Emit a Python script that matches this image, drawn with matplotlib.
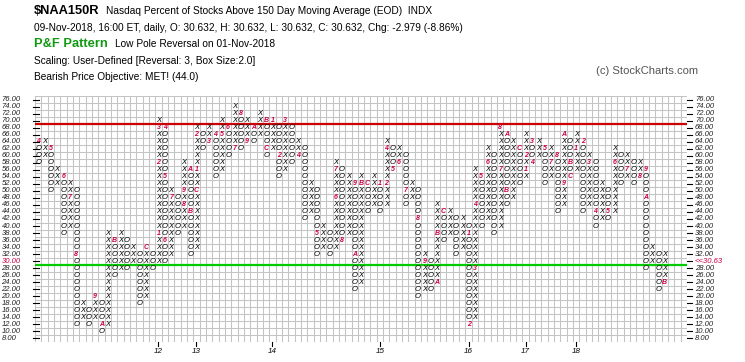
import matplotlib
matplotlib.use('Agg')
import matplotlib.pyplot as plt

plt.rcParams['font.family'] = ['Liberation Sans', 'DejaVu Sans']

# ---- data: one entry per P&F column (X = rising, O = falling) ----
col_types = list("OX" * 50)
col_hi = [64, 64, 62, 56, 54, 52, 50, 18, 16, 20, 18, 38, 36, 38, 36, 34, 32, 34, 32, 70,
          68, 50, 48, 58, 56, 68, 66, 68, 66, 70, 68, 74, 72, 70, 68, 72, 70, 70, 68, 70,
          68, 64, 62, 52, 50, 40, 38, 58, 56, 54, 52, 54, 52, 54, 52, 64, 62, 62, 60, 52,
          50, 32, 30, 46, 44, 44, 42, 42, 40, 56, 54, 62, 60, 68, 66, 64, 62, 66, 64, 64,
          62, 62, 60, 66, 64, 66, 64, 60, 58, 52, 50, 62, 60, 60, 58, 58, 56, 34, 32, 32]
col_lo = [58, 60, 50, 52, 38, 40, 12, 14, 12, 14, 10, 12, 26, 28, 28, 30, 18, 20, 28, 30,
          30, 32, 38, 40, 32, 34, 62, 64, 54, 56, 60, 62, 62, 64, 64, 66, 60, 62, 54, 56,
          58, 60, 42, 44, 32, 34, 32, 34, 36, 38, 22, 24, 44, 46, 44, 46, 56, 58, 46, 48,
          20, 22, 22, 24, 36, 38, 32, 34, 12, 14, 40, 42, 38, 40, 46, 48, 52, 54, 58, 60,
          52, 54, 44, 46, 54, 56, 44, 46, 40, 42, 42, 44, 52, 54, 52, 54, 28, 30, 22, 24]

# month markers (1-9, A=Oct, B=Nov, C=Dec) replacing a box
month_cols = [0, 2, 4, 5, 6, 9, 10, 12, 17,
              19, 19, 19, 20, 20, 20, 21, 23, 23, 24, 24, 25,
              25, 25, 27, 28, 29, 30, 31, 32, 33, 34, 36, 36,
              37, 38, 39, 41, 44, 47, 47, 48, 50, 50, 51, 52,
              54, 55, 55, 56, 57, 58, 60, 61, 63, 63, 64,
              68, 68, 69, 69, 70, 71, 73, 73, 74, 74, 76,
              77, 77, 78, 78, 80, 81, 82, 83, 83, 84, 84,
              85, 86, 87, 88, 90, 91, 93, 95, 96, 96, 99]
month_rows = [64, 62, 54, 48, 32, 20, 12, 36, 34,
              38, 58, 68, 68, 54, 36, 48, 46, 50, 56, 44, 50,
              56, 66, 64, 66, 66, 68, 62, 72, 64, 68, 70, 62,
              70, 60, 70, 60, 38, 48, 56, 36, 52, 32, 52, 52,
              52, 52, 62, 56, 58, 50, 42, 30, 24, 38, 44,
              38, 12, 28, 46, 54, 58, 56, 68, 66, 50, 62,
              56, 60, 64, 58, 62, 58, 60, 52, 66, 58, 54,
              62, 64, 58, 44, 44, 58, 56, 54, 56, 48, 24]
month_text = (list("456789ABC") + list("123456789ABC") + list("123456789ABC")
              + list("123456789ABC") + list("12456789ABC") + list("12345678ABC")
              + list("12345789ABC") + list("123456789AB"))
year_cols = [19, 25, 37, 54, 68, 77, 85]
year_text = ['12', '13', '14', '15', '16', '17', '18']
n_cols = 103
y_min, y_max = 8, 76
red_level = 69
green_level = 29
last_price = '<<30.63'

W, H = 745, 362
fig = plt.figure(figsize=(W / 100, H / 100), dpi=100)
gl, gr, gt, gb = 35, 687, 96, 342
ax = fig.add_axes([gl / W, 1 - gb / H, (gr - gl) / W, (gb - gt) / H])
ax.set_xlim(-0.5, n_cols - 0.5)
ax.set_ylim(y_min - 1, y_max + 1)
ax.axis('off')

gc = '#c4c4c4'
for i in range(n_cols + 1):
    ax.plot([i - 0.5, i - 0.5], [y_min - 1, y_max + 1], color=gc, lw=0.75, zorder=1)
for v in range(y_min - 1, y_max + 2, 2):
    ax.plot([-0.5, n_cols - 0.5], [v, v], color=gc, lw=0.75, zorder=1)

ax.plot([-0.5, n_cols - 0.5], [red_level, red_level], color='#cc0000', lw=1.6, zorder=2)
ax.plot([-0.5, n_cols - 0.5], [green_level, green_level], color='#00cc00', lw=1.6, zorder=2)

labels = {}
for c, r, t in zip(month_cols, month_rows, month_text):
    labels[(c, r)] = t

for c, (t, hi, lo) in enumerate(zip(col_types, col_hi, col_lo)):
    for r in range(lo, hi + 1, 2):
        if (c, r) in labels:
            continue
        ax.text(c, r, t, ha='center', va='center', fontsize=5.5, style='italic',
                color='black', zorder=3)
for (c, r), t in labels.items():
    ax.text(c, r, t, ha='center', va='center', fontsize=5.0, style='italic',
            fontweight='bold', color='#cc0044', zorder=3)


def ypix(v):
    return gt + (y_max + 1 - v) / (y_max - y_min + 2) * (gb - gt)


for v in range(y_min, y_max + 1, 2):
    yp = ypix(v)
    lc = '#cc0044' if v == 30 else '#222222'
    fig.text(1.5 / W, 1 - yp / H, f'{v:.2f}', ha='left', va='center', fontsize=5.5,
             style='italic', color=lc)
    fig.text(695 / W, 1 - yp / H, last_price if v == 30 else f'{v:.2f}', ha='left',
             va='center', fontsize=5.5, style='italic', color=lc)
    fig.add_artist(plt.Line2D([33 / W, 39 / W], [1 - yp / H] * 2, color='black', lw=0.8))
    fig.add_artist(plt.Line2D([687 / W, 692 / W], [1 - yp / H] * 2, color='black', lw=0.8))

for c, t in zip(year_cols, year_text):
    ax.plot([c, c], [y_min - 1, y_min - 2], color='black', lw=0.8, clip_on=False)
    ax.text(c, y_min - 3.6, t, ha='center', va='center', fontsize=5.8, style='italic',
            clip_on=False)


def ftxt(x, y, s, **kw):
    fig.text(x / W, 1 - y / H, s, va='center', ha='left', **kw)


ftxt(34, 11, '$NAA150R', fontsize=9.3, fontweight='bold')
ftxt(106, 11, 'Nasdaq Percent of Stocks Above 150 Day Moving Average (EOD)  INDX', fontsize=7.3)
ftxt(34, 28, '09-Nov-2018, 16:00 ET, daily, O: 30.632, H: 30.632, L: 30.632, C: 30.632, '
     'Chg: -2.979 (-8.86%)', fontsize=7.3)
ftxt(34, 44, 'P&F Pattern', fontsize=9.3, fontweight='bold', color='#119911')
ftxt(115, 44, 'Low Pole Reversal on 01-Nov-2018', fontsize=7.3)
ftxt(34, 61, 'Scaling: User-Defined [Reversal: 3, Box Size:2.0]', fontsize=7.3)
ftxt(34, 77, 'Bearish Price Objective: MET! (44.0)', fontsize=7.3)
ftxt(596, 71, '(c) StockCharts.com', fontsize=8.1, color='#555555')

fig.savefig('out.png', dpi=100)
